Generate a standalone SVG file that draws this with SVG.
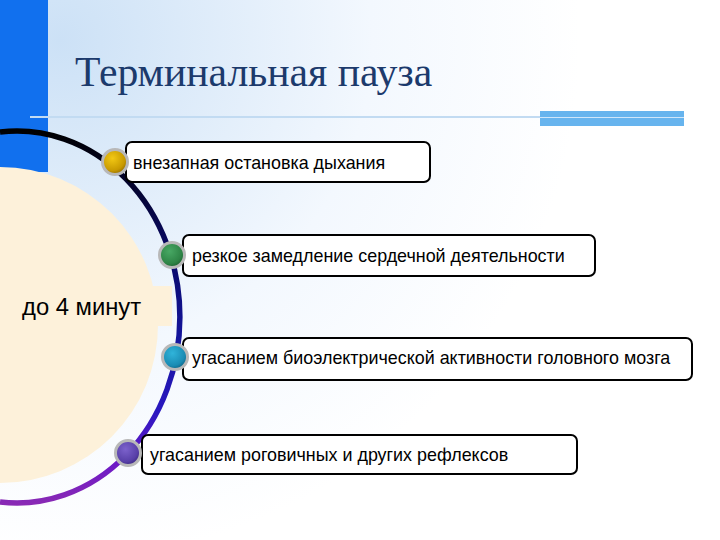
<svg xmlns="http://www.w3.org/2000/svg" width="720" height="540" viewBox="0 0 720 540">
  <defs>
    <radialGradient id="bg" cx="60" cy="40" r="520" gradientUnits="userSpaceOnUse">
      <stop offset="0" stop-color="#CCE1F6"/>
      <stop offset="0.6" stop-color="#F3F8FE"/>
      <stop offset="1" stop-color="#FFFFFF"/>
    </radialGradient>
    <linearGradient id="arcg" x1="0" y1="130" x2="0" y2="505" gradientUnits="userSpaceOnUse">
      <stop offset="0" stop-color="#000000"/>
      <stop offset="0.3" stop-color="#08085E"/>
      <stop offset="0.55" stop-color="#14149C"/>
      <stop offset="0.75" stop-color="#2A18C0"/>
      <stop offset="0.88" stop-color="#6A18C8"/>
      <stop offset="1" stop-color="#8A2AB4"/>
    </linearGradient>
    <radialGradient id="gGold" cx="0.4" cy="0.35" r="0.7">
      <stop offset="0" stop-color="#F2C814"/>
      <stop offset="0.7" stop-color="#C89A00"/>
      <stop offset="1" stop-color="#8A6400"/>
    </radialGradient>
    <radialGradient id="gGreen" cx="0.4" cy="0.35" r="0.7">
      <stop offset="0" stop-color="#48A864"/>
      <stop offset="0.7" stop-color="#2E8446"/>
      <stop offset="1" stop-color="#1A5A2C"/>
    </radialGradient>
    <radialGradient id="gTeal" cx="0.4" cy="0.35" r="0.7">
      <stop offset="0" stop-color="#30B4DA"/>
      <stop offset="0.7" stop-color="#1A8CB4"/>
      <stop offset="1" stop-color="#0C5C7C"/>
    </radialGradient>
    <radialGradient id="gPurple" cx="0.4" cy="0.35" r="0.7">
      <stop offset="0" stop-color="#7C62CC"/>
      <stop offset="0.7" stop-color="#5840A8"/>
      <stop offset="1" stop-color="#36247A"/>
    </radialGradient>
  </defs>
  <style>
    .box { fill: #FFFFFF; stroke: #000000; stroke-width: 2; }
    .lbl { font-family: "Liberation Sans", Arial, sans-serif; font-size: 17.9px; fill: #000000; }
    .dot { stroke: #B8B8B8; stroke-width: 3; }
    .title { font-family: "Liberation Serif", "Times New Roman", serif; font-size: 41.7px; fill: #1C3A6C; }
  </style>

  <!-- background -->
  <rect x="0" y="0" width="720" height="540" fill="url(#bg)"/>
  <rect x="0" y="0" width="48" height="172" fill="#1170EE"/>
  <line x1="1" y1="172" x2="1" y2="390" stroke="#AFCDEB" stroke-width="2"/>
  <circle cx="0" cy="325" r="158" fill="#FDF1DA"/>
  <rect x="0" y="286" width="172" height="40" fill="#FDF1DA"/>

  <!-- header rule -->
  <line x1="30" y1="117" x2="540" y2="117" stroke="#C2DBF2" stroke-width="2"/>
  <rect x="540" y="111" width="144" height="15" fill="#67B4EE"/>
  <line x1="540" y1="117.5" x2="684" y2="117.5" stroke="#CFE6FA" stroke-width="1"/>

  <text class="title" x="75" y="86">Терминальная пауза</text>

  <text x="22" y="315" font-family="Liberation Sans, Arial, sans-serif" font-size="23.8" fill="#000000">до 4 минут</text>

  <!-- connectors -->
  <g id="connectors">
    <path d="M0,132 A163,186 0 1 1 0,502" fill="none" stroke="url(#arcg)" stroke-width="5.5"/>
  </g>

  <g id="node1">
    <rect class="box" x="126" y="142" width="304" height="40" rx="6"/>
    <circle class="dot" cx="115" cy="162" r="12.5" fill="url(#gGold)"/>
    <text class="lbl" x="133" y="169">внезапная остановка дыхания</text>
  </g>

  <g id="node2">
    <rect class="box" x="183" y="235" width="412" height="41" rx="6"/>
    <circle class="dot" cx="172" cy="255" r="12.5" fill="url(#gGreen)"/>
    <text class="lbl" x="192" y="262">резкое замедление сердечной деятельности</text>
  </g>

  <g id="node3">
    <rect class="box" x="183" y="338" width="509" height="42" rx="6"/>
    <circle class="dot" cx="175" cy="357" r="12.5" fill="url(#gTeal)"/>
    <text class="lbl" x="192" y="364">угасанием биоэлектрической активности головного мозга</text>
  </g>

  <g id="node4">
    <rect class="box" x="142" y="435" width="435" height="39" rx="6"/>
    <circle class="dot" cx="128" cy="453" r="12.5" fill="url(#gPurple)"/>
    <text class="lbl" x="150" y="461">угасанием роговичных и других рефлексов</text>
  </g>
</svg>
